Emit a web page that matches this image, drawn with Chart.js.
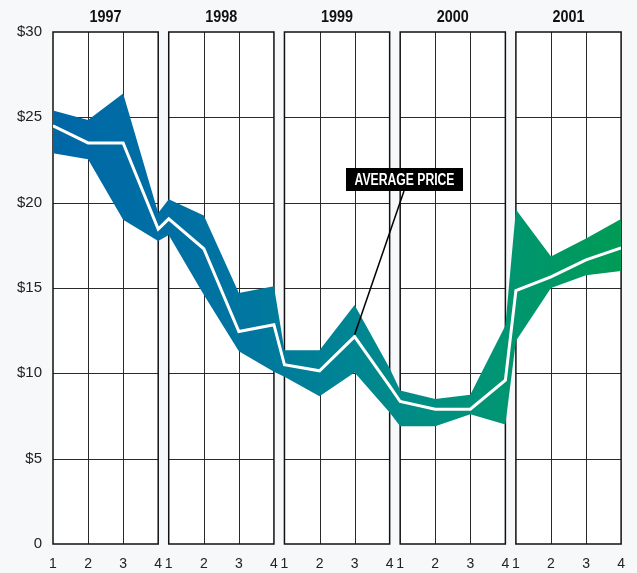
<!DOCTYPE html>
<html>
<head>
<meta charset="utf-8">
<script src="https://cdn.jsdelivr.net/npm/chart.js@4/dist/chart.umd.min.js"></script>
<style>
  html, body { margin: 0; padding: 0; background: #f7f8fa; }
  canvas { display: block; }
</style>
</head>
<body>
<canvas id="c" width="637" height="573"></canvas>
<script>
// Quarterly price range (high / low) with the average price per quarter
const years = ['1997', '1998', '1999', '2000', '2001'];
const quarters = ['1', '2', '3', '4'];
const highPrice = [25.4, 24.85, 26.4, 19.4, 20.2, 19.25, 14.7, 15.1, 11.35, 11.35, 14.0, 10.3, 9.0, 8.5, 8.75, 12.8, 19.6, 16.85, 17.9, 19.05];
const avgPrice  = [24.5, 23.5, 23.5, 18.45, 19.05, 17.3, 12.45, 12.85, 10.5, 10.15, 12.15, 9.25, 8.35, 7.9, 7.9, 9.6, 14.85, 15.65, 16.65, 17.35];
const lowPrice  = [22.9, 22.55, 19.0, 17.75, 18.1, 14.6, 11.3, 10.1, 9.8, 8.65, 10.05, 7.7, 6.9, 6.9, 7.6, 7.0, 11.9, 15.0, 15.75, 16.0];
const yTicks = [0, 5, 10, 15, 20, 25, 30];

// each year occupies 3 x-units (Q1..Q4) plus a small gap before the next year
const PERIOD = 3.3;
const xOf = i => Math.floor(i / 4) * PERIOD + (i % 4);
const XMAX = (years.length - 1) * PERIOD + 3;

const toPoints = arr => arr.map((v, i) => ({ x: xOf(i), y: v }));

const FONT = "'Liberation Sans', Arial, sans-serif";

function bandGradient(ctx) {
  const chart = ctx.chart;
  const a = chart.chartArea;
  if (!a) return '#007aa0';
  const g = chart.ctx.createLinearGradient(a.left, 0, a.right, 0);
  g.addColorStop(0.0, '#0067a7');
  g.addColorStop(0.30, '#0073a2');
  g.addColorStop(0.52, '#008593');
  g.addColorStop(0.75, '#009478');
  g.addColorStop(1.0, '#009b55');
  return g;
}

// draws condensed text: the glyphs are squeezed horizontally to a given width
function condensedText(ctx, text, cx, baseY, font, width) {
  ctx.save();
  ctx.font = font;
  const w = ctx.measureText(text).width;
  const k = Math.min(1, width / w);
  ctx.translate(cx, baseY);
  ctx.scale(k, 1);
  ctx.textAlign = 'center';
  ctx.textBaseline = 'alphabetic';
  ctx.fillText(text, 0, 0);
  ctx.restore();
}

// white year panels with their grid, drawn under the band, and the year headings
const panels = {
  id: 'panels',
  beforeDatasetsDraw(chart) {
    const { ctx, scales: { x, y } } = chart;
    const top = y.getPixelForValue(30), bottom = y.getPixelForValue(0);
    ctx.save();
    years.forEach((yr, k) => {
      const l = x.getPixelForValue(k * PERIOD);
      const r = x.getPixelForValue(k * PERIOD + 3);
      ctx.fillStyle = '#ffffff';
      ctx.fillRect(l, top, r - l, bottom - top);
      ctx.strokeStyle = '#2a2a2a';
      ctx.lineWidth = 1;
      ctx.beginPath();
      yTicks.slice(1, -1).forEach(v => {
        const py = Math.round(y.getPixelForValue(v)) + 0.5;
        ctx.moveTo(l, py); ctx.lineTo(r, py);
      });
      [1, 2].forEach(q => {
        const px = Math.round(x.getPixelForValue(k * PERIOD + q)) + 0.5;
        ctx.moveTo(px, top); ctx.lineTo(px, bottom);
      });
      ctx.stroke();
      ctx.strokeStyle = '#111111';
      ctx.lineWidth = 1.5;
      ctx.strokeRect(l, top, r - l, bottom - top);

      ctx.fillStyle = '#111';
      condensedText(ctx, yr, (l + r) / 2, 22, 'bold 17px ' + FONT, 32);
    });
    ctx.restore();
  }
};

// "AVERAGE PRICE" callout pointing at the 1999 Q3 average
const callout = {
  id: 'callout',
  afterDatasetsDraw(chart) {
    const { ctx, scales: { x, y } } = chart;
    const idx = 10;
    const px = x.getPixelForValue(xOf(idx));
    const py = y.getPixelForValue(avgPrice[idx]);
    const boxL = 346, boxT = 168, boxW = 117, boxH = 23;
    ctx.save();
    ctx.strokeStyle = '#000';
    ctx.lineWidth = 1.5;
    ctx.beginPath();
    ctx.moveTo(404, boxT + boxH);
    ctx.lineTo(px, py - 2);
    ctx.stroke();
    ctx.fillStyle = '#000';
    ctx.fillRect(boxL, boxT, boxW, boxH);
    ctx.fillStyle = '#fff';
    condensedText(ctx, 'AVERAGE PRICE', boxL + boxW / 2, boxT + 17, 'bold 16px ' + FONT, 100);
    ctx.restore();
  }
};

new Chart(document.getElementById('c'), {
  type: 'line',
  data: {
    datasets: [
      {
        label: 'High',
        data: toPoints(highPrice),
        borderWidth: 0,
        pointRadius: 0,
        tension: 0,
        fill: '+1',
        backgroundColor: bandGradient,
        order: 2
      },
      {
        label: 'Low',
        data: toPoints(lowPrice),
        borderWidth: 0,
        pointRadius: 0,
        tension: 0,
        fill: false,
        order: 2
      },
      {
        label: 'Average price',
        data: toPoints(avgPrice),
        borderColor: '#ffffff',
        borderWidth: 3,
        borderJoinStyle: 'miter',
        pointRadius: 0,
        tension: 0,
        fill: false,
        order: 0
      }
    ]
  },
  options: {
    responsive: false,
    animation: false,
    layout: { padding: { left: 0, right: 10, top: 32, bottom: 0 } },
    plugins: { legend: { display: false }, tooltip: { enabled: false } },
    scales: {
      x: {
        type: 'linear',
        position: 'bottom',
        min: 0,
        max: XMAX,
        grid: { display: false, drawTicks: false },
        border: { display: false },
        afterBuildTicks: s => { s.ticks = avgPrice.map((_, i) => ({ value: xOf(i) })); },
        afterFit: s => { s.height = 29; },
        ticks: {
          autoSkip: false,
          maxRotation: 0,
          padding: 12,
          color: '#222',
          font: { family: FONT, size: 14 },
          callback: (v, i) => quarters[i % 4]
        }
      },
      y: {
        min: 0,
        max: 30,
        grid: { display: false, drawTicks: false },
        border: { display: false },
        afterBuildTicks: s => { s.ticks = yTicks.map(v => ({ value: v })); },
        afterFit: s => { s.width = 53; },
        ticks: {
          padding: 11,
          color: '#222',
          font: { family: FONT, size: 15 },
          callback: v => (v === 0 ? '0' : '$' + v)
        }
      }
    }
  },
  plugins: [panels, callout]
});
</script>
</body>
</html>
